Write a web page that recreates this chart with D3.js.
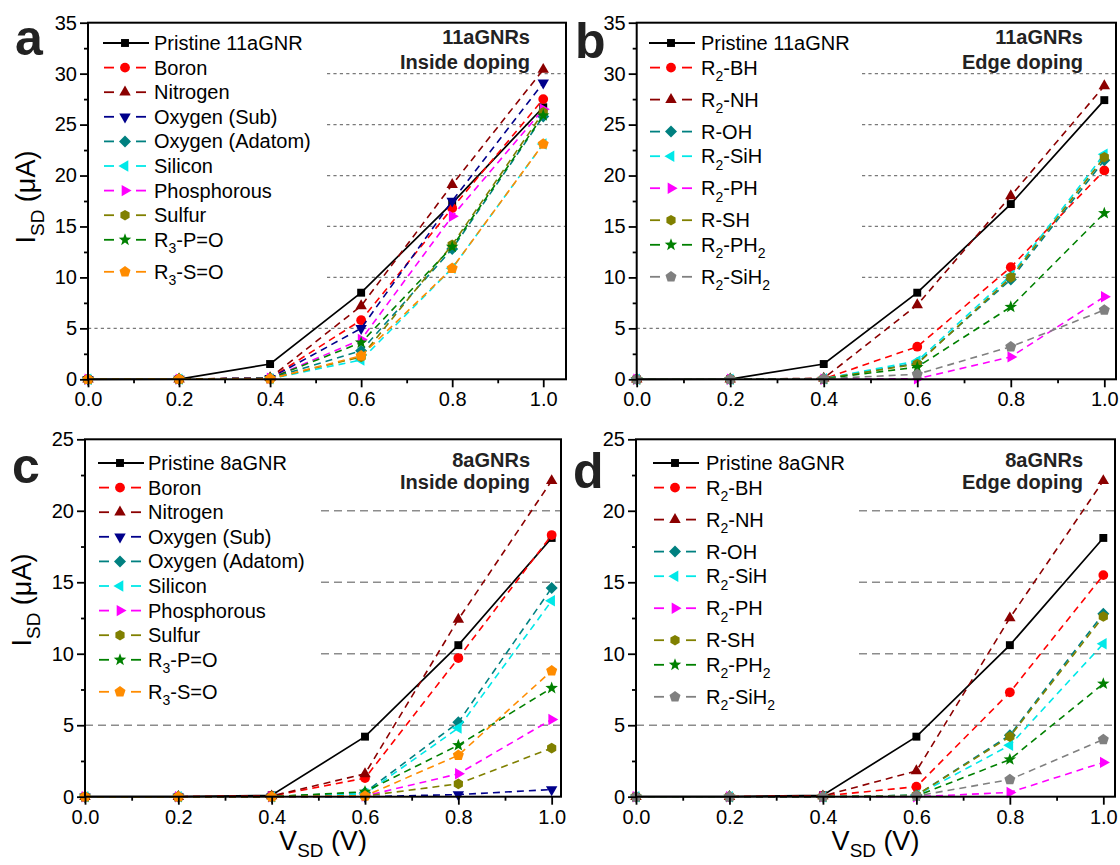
<!DOCTYPE html>
<html><head><meta charset="utf-8">
<script src="https://cdn.jsdelivr.net/npm/d3@7"></script>
<style>body{margin:0;background:#fff}svg{display:block}text{font-family:"Liberation Sans",Arial,sans-serif}</style>
</head><body><svg id="chart" width="1120" height="865"></svg>
<script>
// ---------------- DATA ----------------
const xValues = [0, 0.2, 0.4, 0.6, 0.8, 1.0];
const xTickLabels = ["0.0", "0.2", "0.4", "0.6", "0.8", "1.0"];
const xMinorTicks = [0.1, 0.3, 0.5, 0.7, 0.9];
const yTicks11 = [0, 5, 10, 15, 20, 25, 30, 35];
const yTicks8 = [0, 5, 10, 15, 20, 25];
const refLines11 = [5, 10, 15, 20, 25, 30];
const refLines8 = [5, 10, 15, 20];

// panel a: 11aGNRs inside doping
const insideNames11 = ["Pristine 11aGNR", "Boron", "Nitrogen", "Oxygen (Sub)", "Oxygen (Adatom)", "Silicon", "Phosphorous", "Sulfur", "R_3-P=O", "R_3-S=O"];
const a_pristine = [0, 0.02, 1.5, 8.5, 17.3, 26.7];
const a_boron    = [0, 0.02, 0.1, 5.8, 16.8, 27.5];
const a_nitrogen = [0, 0.02, 0.15, 7.2, 19.1, 30.4];
const a_oxySub   = [0, 0.02, 0.1, 5.0, 17.5, 29.1];
const a_oxyAd    = [0, 0.02, 0.1, 2.8, 12.8, 25.8];
const a_silicon  = [0, 0.02, 0.05, 1.9, 10.9, 23.1];
const a_phos     = [0, 0.02, 0.1, 3.9, 16.0, 26.5];
const a_sulfur   = [0, 0.02, 0.05, 2.2, 13.2, 26.2];
const a_rpo      = [0, 0.02, 0.1, 3.6, 13.0, 25.9];
const a_rso      = [0, 0.02, 0.05, 2.3, 10.9, 23.1];

// panel b: 11aGNRs edge doping
const edgeNames11 = ["Pristine 11aGNR", "R_2-BH", "R_2-NH", "R-OH", "R_2-SiH", "R_2-PH", "R-SH", "R_2-PH_2", "R_2-SiH_2"];
const b_pristine = [0, 0.02, 1.5, 8.5, 17.2, 27.4];
const b_bh   = [0, 0.01, 0.05, 3.2, 11.0, 20.5];
const b_nh   = [0, 0.01, 0.1, 7.3, 18.0, 28.8];
const b_oh   = [0, 0.01, 0.05, 1.6, 9.8, 21.5];
const b_sih  = [0, 0.01, 0.05, 1.8, 10.2, 22.1];
const b_ph   = [0, 0.0, 0.0, 0.05, 2.2, 8.1];
const b_sh   = [0, 0.01, 0.05, 1.5, 10.0, 21.8];
const b_ph2  = [0, 0.01, 0.05, 1.2, 7.1, 16.3];
const b_sih2 = [0, 0.01, 0.05, 0.5, 3.2, 6.8];

// panel c: 8aGNRs inside doping
const insideNames8 = ["Pristine 8aGNR", "Boron", "Nitrogen", "Oxygen (Sub)", "Oxygen (Adatom)", "Silicon", "Phosphorous", "Sulfur", "R_3-P=O", "R_3-S=O"];
const c_pristine = [0, 0.0, 0.1, 4.2, 10.6, 18.1];
const c_boron    = [0, 0.0, 0.05, 1.3, 9.7, 18.3];
const c_nitrogen = [0, 0.0, 0.05, 1.6, 12.4, 22.1];
const c_oxySub   = [0, 0.0, 0.0, 0.0, 0.15, 0.5];
const c_oxyAd    = [0, 0.0, 0.0, 0.3, 5.2, 14.6];
const c_silicon  = [0, 0.0, 0.0, 0.2, 4.8, 13.7];
const c_phos     = [0, 0.0, 0.0, 0.05, 1.6, 5.4];
const c_sulfur   = [0, 0.0, 0.0, 0.05, 0.9, 3.4];
const c_rpo      = [0, 0.0, 0.0, 0.35, 3.6, 7.6];
const c_rso      = [0, 0.0, 0.0, 0.05, 2.9, 8.8];

// panel d: 8aGNRs edge doping
const edgeNames8 = ["Pristine 8aGNR", "R_2-BH", "R_2-NH", "R-OH", "R_2-SiH", "R_2-PH", "R-SH", "R_2-PH_2", "R_2-SiH_2"];
const d_pristine = [0, 0.0, 0.1, 4.2, 10.6, 18.1];
const d_bh   = [0, 0.0, 0.05, 0.7, 7.3, 15.5];
const d_nh   = [0, 0.0, 0.05, 1.8, 12.5, 22.1];
const d_oh   = [0, 0.0, 0.0, 0.1, 4.3, 12.8];
const d_sih  = [0, 0.0, 0.0, 0.1, 3.6, 10.7];
const d_ph   = [0, 0.0, 0.0, 0.0, 0.3, 2.4];
const d_sh   = [0, 0.0, 0.0, 0.1, 4.2, 12.6];
const d_ph2  = [0, 0.0, 0.0, 0.05, 2.6, 7.9];
const d_sih2 = [0, 0.0, 0.0, 0.05, 1.2, 4.0];

const panelLetters = ["a", "b", "c", "d"];
const annotations = [["11aGNRs", "Inside doping"], ["11aGNRs", "Edge doping"], ["8aGNRs", "Inside doping"], ["8aGNRs", "Edge doping"]];

// ---------------- STYLES ----------------
const insideStyles = [
  {color: "#000000", shape: "square", solid: true},
  {color: "#ff0000", shape: "circle"},
  {color: "#8b0000", shape: "up"},
  {color: "#00008b", shape: "down"},
  {color: "#008080", shape: "diamond"},
  {color: "#00e8e8", shape: "left"},
  {color: "#ff00ff", shape: "right"},
  {color: "#808000", shape: "hexagon"},
  {color: "#008000", shape: "star"},
  {color: "#ff8c00", shape: "pentagon"}
];
const edgeStyles = [
  {color: "#000000", shape: "square", solid: true},
  {color: "#ff0000", shape: "circle"},
  {color: "#8b0000", shape: "up"},
  {color: "#008080", shape: "diamond"},
  {color: "#00e8e8", shape: "left"},
  {color: "#ff00ff", shape: "right"},
  {color: "#808000", shape: "hexagon"},
  {color: "#008000", shape: "star"},
  {color: "#808080", shape: "pentagon"}
];

function polyPath(n, r, rot) {
  const pts = d3.range(n).map(k => {
    const a = rot + 2 * Math.PI * k / n - Math.PI / 2;
    return [r * Math.cos(a), r * Math.sin(a)];
  });
  return "M" + pts.map(p => p[0].toFixed(2) + "," + p[1].toFixed(2)).join("L") + "Z";
}
function starPath(ro, ri) {
  const pts = d3.range(10).map(k => {
    const r = k % 2 ? ri : ro;
    const a = Math.PI * k / 5 - Math.PI / 2;
    return [r * Math.cos(a), r * Math.sin(a)];
  });
  return "M" + pts.map(p => p[0].toFixed(2) + "," + p[1].toFixed(2)).join("L") + "Z";
}
const shapes = {
  square: polyPath(4, 5.6, Math.PI / 4),
  circle: d3.symbol().type(d3.symbolCircle).size(Math.PI * 4.9 * 4.9)(),
  up: polyPath(3, 6.6, 0),
  down: polyPath(3, 6.6, Math.PI),
  diamond: polyPath(4, 6.0, 0),
  left: polyPath(3, 6.6, -Math.PI / 2),
  right: polyPath(3, 6.6, Math.PI / 2),
  hexagon: polyPath(6, 5.3, 0),
  star: starPath(6.6, 2.7),
  pentagon: polyPath(5, 5.8, 0)
};

function richText(sel, str, fs, shiftFrac) {
  const re = /_\{([^}]*)\}|_(.)/g;
  let last = 0, m, shifted = 0;
  const shift = fs * (shiftFrac || 0.32);
  const add = (t, sub) => {
    const ts = sel.append("tspan").text(t);
    if (sub) { ts.attr("font-size", fs * 0.7).attr("dy", shift - shifted); shifted = shift; }
    else { if (shifted) ts.attr("dy", -shifted); shifted = 0; }
  };
  while ((m = re.exec(str)) !== null) {
    if (m.index > last) add(str.slice(last, m.index), false);
    add(m[1] !== undefined ? m[1] : m[2], true);
    last = re.lastIndex;
  }
  if (last < str.length) add(str.slice(last), false);
}

// ---------------- DRAW ----------------
const svg = d3.select("#chart");
svg.append("rect").attr("width", 1120).attr("height", 865).attr("fill", "#fff");

const panels = [
  {left: 88, right: 566, top: 22.7, bottom: 379.3, xMax: 1.05, yMax: 35, yTicks: yTicks11, refs: refLines11, refStart: 327, refDash: "3.2,3.2", refW: 1.3, refColor: "#7a7a7a",
   names: insideNames11, styles: insideStyles, series: [a_pristine, a_boron, a_nitrogen, a_oxySub, a_oxyAd, a_silicon, a_phos, a_sulfur, a_rpo, a_rso],
   legTop: 43, symX: 125, textX: 154, annX: 530, annY: [44, 69], letterX: 15, letterY: 55, ylabX: 35, ylabY: 197, xlabel: false},
  {left: 636.7, right: 1116, top: 22.7, bottom: 379.3, xMax: 1.025, yMax: 35, yTicks: yTicks11, refs: refLines11, refStart: 862, refDash: "3.2,3.2", refW: 1.3, refColor: "#7a7a7a",
   names: edgeNames11, styles: edgeStyles, series: [b_pristine, b_bh, b_nh, b_oh, b_sih, b_ph, b_sh, b_ph2, b_sih2],
   legTop: 43, symX: 671, textX: 701, annX: 1083, annY: [44, 69], letterX: 575, letterY: 58, ylabX: null, xlabel: false},
  {left: 85, right: 561, top: 439.3, bottom: 796.7, xMax: 1.02, yMax: 25, yTicks: yTicks8, refs: refLines8, refStart: 321, refDash: "8,5", refW: 1.6, refColor: "#8c8c8c",
   names: insideNames8, styles: insideStyles, series: [c_pristine, c_boron, c_nitrogen, c_oxySub, c_oxyAd, c_silicon, c_phos, c_sulfur, c_rpo, c_rso],
   legTop: 463, symX: 120, textX: 148, annX: 530, annY: [467, 489], letterX: 12, letterY: 483, ylabX: 31, ylabY: 600, xlabel: true},
  {left: 636, right: 1115, top: 439.3, bottom: 796.7, xMax: 1.025, yMax: 25, yTicks: yTicks8, refs: refLines8, refStart: 859, refDash: "8,5", refW: 1.6, refColor: "#8c8c8c",
   names: edgeNames8, styles: edgeStyles, series: [d_pristine, d_bh, d_nh, d_oh, d_sih, d_ph, d_sh, d_ph2, d_sih2],
   legTop: 463, symX: 675, textX: 706, annX: 1083, annY: [467, 489], letterX: 573, letterY: 488, ylabX: null, xlabel: true}
];

panels.forEach((p, pi) => {
  const g = svg.append("g");
  const x = d3.scaleLinear().domain([0, p.xMax]).range([p.left, p.right]);
  const y = d3.scaleLinear().domain([0, p.yMax]).range([p.bottom, p.top]);

  // reference dashed lines
  p.refs.forEach(v => {
    g.append("line")
      .attr("x1", v === 5 ? p.left : p.refStart).attr("x2", p.right)
      .attr("y1", y(v)).attr("y2", y(v))
      .attr("stroke", p.refColor).attr("stroke-width", p.refW)
      .attr("stroke-dasharray", p.refDash);
  });

  // series
  const line = d3.line().x((d, i) => x(xValues[i])).y(d => y(d));
  p.series.forEach((vals, si) => {
    const st = p.styles[si];
    g.append("path").datum(vals).attr("d", line)
      .attr("fill", "none").attr("stroke", st.color)
      .attr("stroke-width", st.solid ? 1.7 : 1.6)
      .attr("stroke-dasharray", st.solid ? null : "7,5");
    g.selectAll(null).data(vals).enter().append("path")
      .attr("d", shapes[st.shape])
      .attr("transform", (d, i) => `translate(${x(xValues[i])},${y(d)})`)
      .attr("fill", st.color);
  });

  // frame
  g.append("rect").attr("x", p.left).attr("y", p.top)
    .attr("width", p.right - p.left).attr("height", p.bottom - p.top)
    .attr("fill", "none").attr("stroke", "#000").attr("stroke-width", 2);

  // axes
  const xAxis = g.append("g").attr("transform", `translate(0,${p.bottom})`)
    .call(d3.axisBottom(x).tickValues(xValues).tickFormat((d, i) => xTickLabels[i]).tickSize(8).tickPadding(5));
  const xMinor = g.append("g").attr("transform", `translate(0,${p.bottom})`)
    .call(d3.axisBottom(x).tickValues(xMinorTicks).tickFormat("").tickSize(4));
  const yAxis = g.append("g").attr("transform", `translate(${p.left},0)`)
    .call(d3.axisLeft(y).tickValues(p.yTicks).tickFormat(d3.format("d")).tickSize(8).tickPadding(3));
  const yMinorVals = d3.range(2.5, p.yMax, 5);
  const yMinor = g.append("g").attr("transform", `translate(${p.left},0)`)
    .call(d3.axisLeft(y).tickValues(yMinorVals).tickFormat("").tickSize(4));
  [xAxis, xMinor, yAxis, yMinor].forEach(a => {
    a.select(".domain").remove();
    a.selectAll("line").attr("stroke", "#000").attr("stroke-width", 1.8);
    a.selectAll("text").attr("font-size", 20).attr("fill", "#000")
      .attr("font-family", '"Liberation Sans", Arial, sans-serif');
  });

  // legend
  let ly = p.legTop;
  p.names.forEach((name, si) => {
    const st = p.styles[si];
    if (si > 0) ly += /_/.test(p.names[si - 1]) ? 32 : 24.6;
    if (st.solid) {
      g.append("line").attr("x1", p.symX - 22).attr("x2", p.symX + 24).attr("y1", ly).attr("y2", ly)
        .attr("stroke", st.color).attr("stroke-width", 1.8);
    } else {
      [[-21, -11], [11, 21]].forEach(s => {
        g.append("line").attr("x1", p.symX + s[0]).attr("x2", p.symX + s[1]).attr("y1", ly).attr("y2", ly)
          .attr("stroke", st.color).attr("stroke-width", 1.8);
      });
    }
    g.append("path").attr("d", shapes[st.shape]).attr("transform", `translate(${p.symX},${ly})`).attr("fill", st.color);
    const t = g.append("text").attr("x", p.textX).attr("y", ly + 7).attr("font-size", 20).attr("fill", "#000");
    richText(t, name, 20);
  });

  // annotation
  annotations[pi].forEach((s, k) => {
    g.append("text").attr("x", p.annX).attr("y", p.annY[k]).attr("text-anchor", "end")
      .attr("font-size", 20).attr("font-weight", "bold").attr("fill", "#222").text(s);
  });

  // panel letter
  g.append("text").attr("x", p.letterX).attr("y", p.letterY).attr("font-size", 50)
    .attr("font-weight", "bold").attr("fill", "#222").text(panelLetters[pi]);

  // axis titles
  if (p.ylabX !== null) {
    const t = g.append("text").attr("transform", `translate(${p.ylabX},${p.ylabY}) rotate(-90)`)
      .attr("text-anchor", "middle").attr("font-size", 27).attr("fill", "#000");
    richText(t, "I_{SD} (μA)", 27);
  }
  if (p.xlabel) {
    const t = g.append("text").attr("x", (p.left + p.right) / 2).attr("y", 850)
      .attr("text-anchor", "middle").attr("font-size", 27).attr("fill", "#000");
    richText(t, "V_{SD} (V)", 27, 0.26);
  }
});
</script>
</body></html>
